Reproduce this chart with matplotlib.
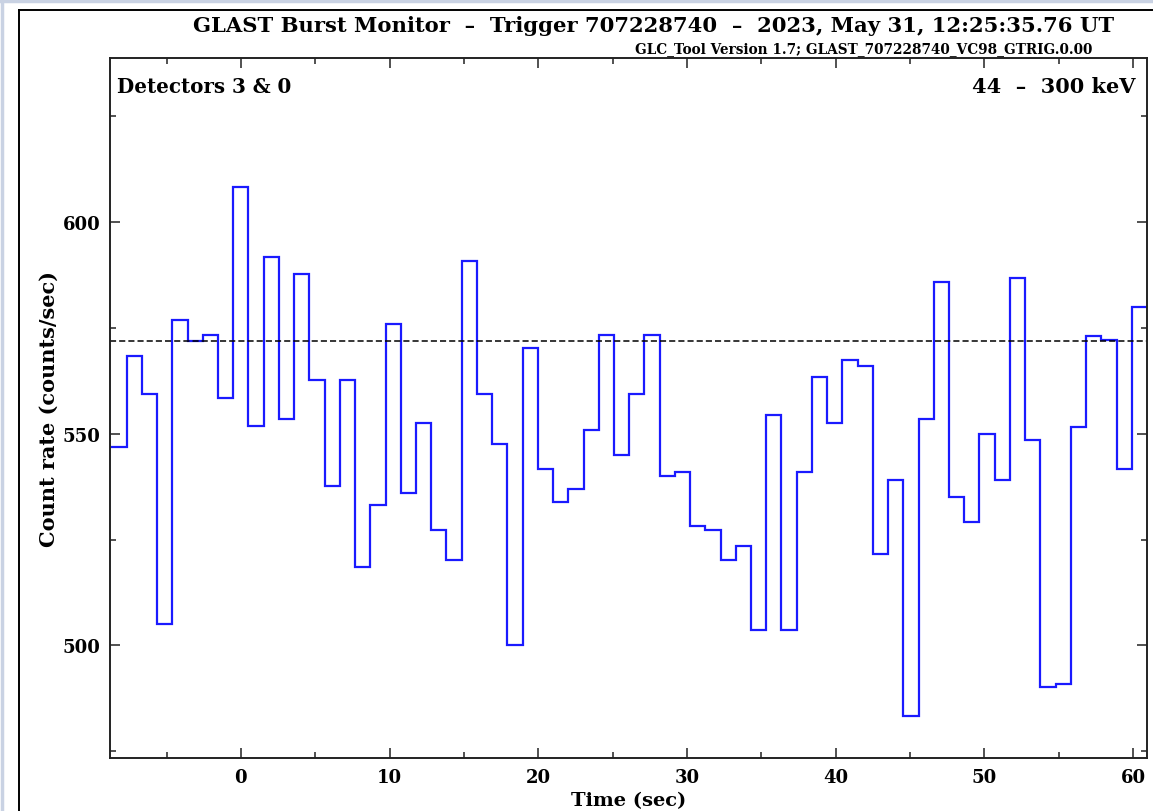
import numpy as np
import matplotlib
matplotlib.use("Agg")
import matplotlib.pyplot as plt
from matplotlib.lines import Line2D
from matplotlib.ticker import MultipleLocator

# Binned count rate, detectors 3 & 0, 44-300 keV (counts/sec), 1.024 s bins
bin_start = -8.704
bin_width = 1.024
rates = [
    547.0, 568.3, 559.4, 505.0, 576.9, 572.0, 573.4, 558.5,
    608.4, 551.8, 591.8, 553.6, 587.7, 562.6, 537.7, 562.6,
    518.5, 533.2, 576.0, 535.9, 552.6, 527.3, 520.2, 590.8,
    559.4, 547.6, 500.0, 570.2, 541.8, 534.0, 536.9, 550.8,
    573.3, 544.9, 559.4, 573.3, 540.0, 541.0, 528.3, 527.3,
    520.2, 523.4, 503.6, 554.4, 503.6, 540.9, 563.4, 552.6,
    567.5, 566.1, 521.6, 539.1, 483.4, 553.5, 585.9, 535.1,
    529.1, 550.0, 539.1, 586.8, 548.5, 490.1, 491.0, 551.7,
    573.1, 572.2, 541.8, 580.0,
]
background = 571.9

title = "GLAST Burst Monitor  \u2013  Trigger 707228740  \u2013  2023, May 31, 12:25:35.76 UT"
subtitle = "GLC_Tool Version 1.7; GLAST_707228740_VC98_GTRIG.0.00"
detectors = "Detectors 3 & 0"
energy = "44  \u2013  300 keV"
xlabel = "Time (sec)"
ylabel = "Count rate (counts/sec)"

W, H = 1153, 812
plt.rcParams["font.family"] = ["DejaVu Serif"]
plt.rcParams["font.weight"] = "bold"

fig = plt.figure(figsize=(W / 100, H / 100), dpi=100)
fig.patch.set_facecolor("white")

# page frame around the plot
edge_col = "#c9d2e3"
fig.add_artist(Line2D([1.5 / W, 1.5 / W], [0, 1], color=edge_col, lw=2.5, transform=fig.transFigure))
fig.add_artist(Line2D([0, 1], [1 - 1.5 / H, 1 - 1.5 / H], color=edge_col, lw=2.5, transform=fig.transFigure))
fig.add_artist(Line2D([19 / W, 19 / W], [0, 1 - 11 / H], color="black", lw=1.4, transform=fig.transFigure))
fig.add_artist(Line2D([19 / W, 1], [1 - 11 / H, 1 - 11 / H], color="black", lw=1.4, transform=fig.transFigure))

ax = fig.add_axes([110 / W, 53 / H, 1037 / W, 700 / H])

edges = bin_start + bin_width * np.arange(len(rates) + 1)
ax.stairs(rates, edges, baseline=None, color="#1a1aff", lw=1.6)
ax.axhline(background, color="black", lw=1.1, dashes=(4.0, 2.0))

ax.set_xlim(-8.80, 60.93)
ax.set_ylim(473.4, 638.8)

ax.xaxis.set_major_locator(MultipleLocator(10))
ax.xaxis.set_minor_locator(MultipleLocator(5))
ax.yaxis.set_major_locator(MultipleLocator(50))
ax.yaxis.set_minor_locator(MultipleLocator(25))
ax.tick_params(which="both", direction="in", top=True, right=True, width=1.1,
               colors="#222222", labelcolor="black", labelsize=13, pad=7)
ax.tick_params(which="major", length=7)
ax.tick_params(which="minor", length=4.5)
for lab in ax.get_xticklabels() + ax.get_yticklabels():
    lab.set_fontweight("bold")
for s in ax.spines.values():
    s.set_linewidth(1.4)
    s.set_color("#222222")

ax.set_xlabel(xlabel, fontsize=14, fontweight="bold", labelpad=4)
ax.set_ylabel(ylabel, fontsize=15, fontweight="bold", labelpad=2.5)

ax.text(7 / 1037, (759 - 87) / 700, detectors, transform=ax.transAxes,
        ha="left", va="center", fontsize=14.3, fontweight="bold")
ax.text((1136 - 110) / 1037, (759 - 87) / 700, energy, transform=ax.transAxes,
        ha="right", va="center", fontsize=15, fontweight="bold")

fig.text(654 / W, 1 - 26 / H, title, ha="center", va="center", fontsize=15.2, fontweight="bold")
fig.text(1092 / W, 1 - 49 / H, subtitle, ha="right", va="center", fontsize=9.8, fontweight="bold")

fig.savefig("out.png", dpi=100, facecolor="white")
